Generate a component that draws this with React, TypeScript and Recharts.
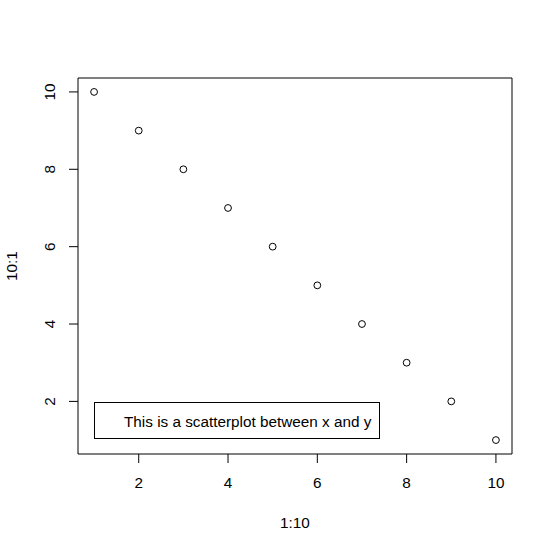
import React from 'react';
import { ScatterChart, Scatter, XAxis, YAxis, ReferenceArea, Legend } from 'recharts';

const xValues = [1, 2, 3, 4, 5, 6, 7, 8, 9, 10];
const yValues = [10, 9, 8, 7, 6, 5, 4, 3, 2, 1];
const xTicks = [2, 4, 6, 8, 10];
const yTicks = [2, 4, 6, 8, 10];
const legendText = 'This is a scatterplot between x and y';
const xLabel = '1:10';
const yLabel = '10:1';

const data = xValues.map((x, i) => ({ x, y: yValues[i] }));
const FONT = '"Liberation Sans", Arial, sans-serif';
const FS = 15.3;

const YTick = (props: any) => {
  const { x, y, payload } = props;
  return (
    <text x={x} y={y} transform={`rotate(-90, ${x}, ${y})`} textAnchor="middle" fontSize={FS} fontFamily={FONT} fill="#000">
      {payload.value}
    </text>
  );
};

const XTick = (props: any) => {
  const { x, y, payload } = props;
  return (
    <text x={x} y={y} dy="0.71em" textAnchor="middle" fontSize={FS} fontFamily={FONT} fill="#000">
      {payload.value}
    </text>
  );
};

const Circle = (props: any) => {
  const { cx, cy } = props;
  return <circle cx={cx} cy={cy} r={3.4} fill="none" stroke="#000" strokeWidth={1} />;
};

const LegendBox = () => (
  <div
    style={{
      width: 286,
      height: 37,
      boxSizing: 'border-box',
      border: '1px solid #000',
      fontFamily: FONT,
      fontSize: FS,
      color: '#000',
      paddingLeft: 29,
      lineHeight: '37px',
      whiteSpace: 'nowrap',
      background: '#fff',
    }}
  >
    {legendText}
  </div>
);

export default function App() {
  return (
    <div style={{ position: 'absolute', left: 0, top: 0, width: 553, height: 552, background: '#fff' }}>
      <ScatterChart width={553} height={552} margin={{ top: 78, right: 41, bottom: 0, left: 0 }}>
        <XAxis
          type="number"
          dataKey="x"
          domain={[0.64, 10.36]}
          ticks={xTicks}
          allowDataOverflow
          height={98}
          axisLine={false}
          tickLine={{ stroke: '#000' }}
          tickSize={9}
          tickMargin={14}
          tick={<XTick />}
          label={{ value: xLabel, position: 'insideBottom', offset: 24, fontSize: FS, fontFamily: FONT, fill: '#000' }}
        />
        <YAxis
          type="number"
          dataKey="y"
          domain={[0.64, 10.36]}
          ticks={yTicks}
          allowDataOverflow
          width={78}
          axisLine={false}
          tickLine={{ stroke: '#000' }}
          tickSize={9}
          tickMargin={14}
          tick={<YTick />}
          label={{ value: yLabel, angle: -90, position: 'insideLeft', offset: 12, fontSize: FS, fontFamily: FONT, fill: '#000', style: { textAnchor: 'middle' } }}
        />
        <ReferenceArea x1={0.64} x2={10.36} y1={0.64} y2={10.36} fill="none" stroke="#000" strokeWidth={1} ifOverflow="visible" />
        <Legend
          layout="horizontal"
          verticalAlign="middle"
          align="center"
          content={<LegendBox />}
          wrapperStyle={{ position: 'absolute', left: 94, top: 402, width: 286, bottom: 'auto' }}
        />
        <Scatter data={data} shape={<Circle />} isAnimationActive={false} />
      </ScatterChart>
    </div>
  );
}
